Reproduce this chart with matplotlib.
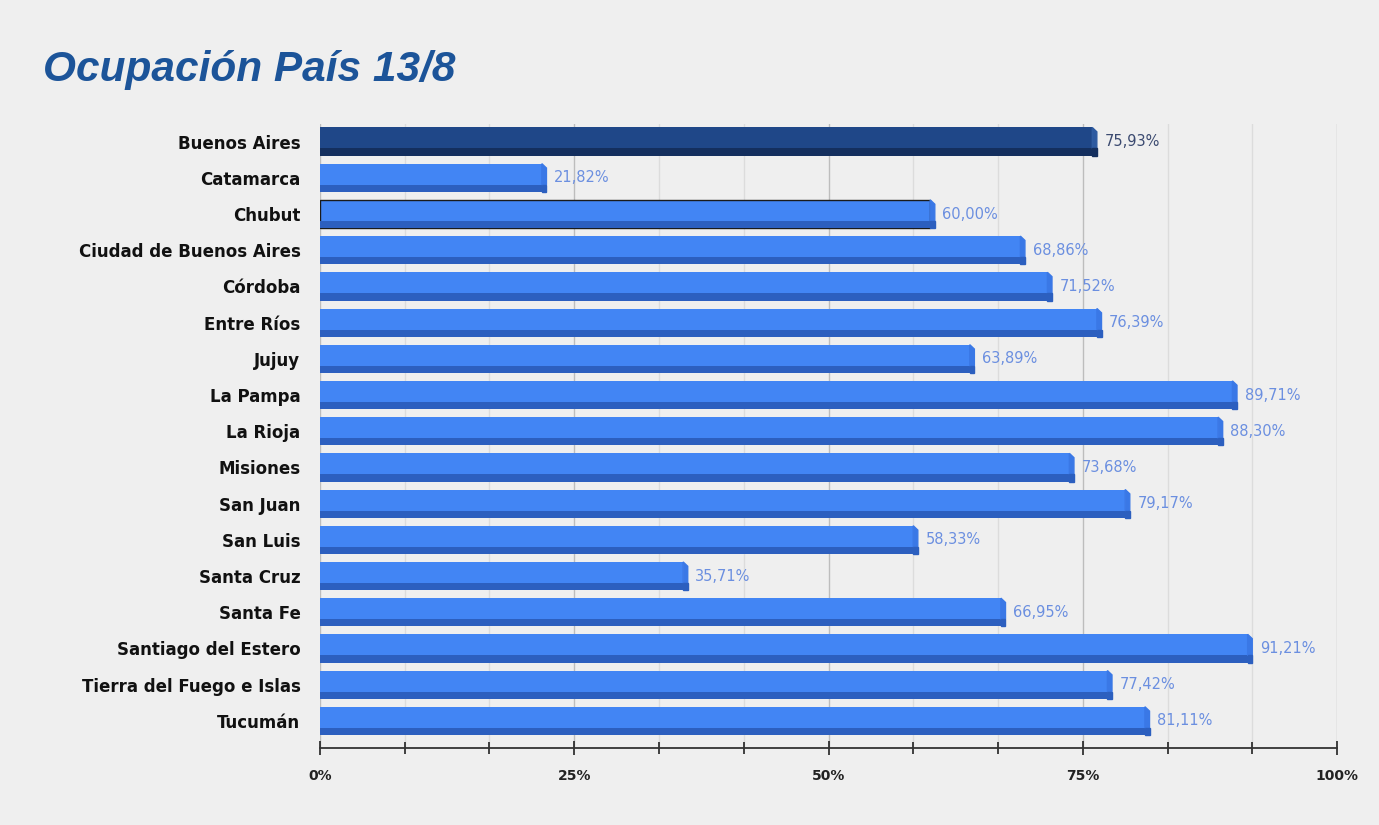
import numpy as np
import matplotlib.pyplot as plt
from matplotlib.patches import Polygon
from matplotlib.ticker import MultipleLocator, FuncFormatter

# Datos
provincias = ["Buenos Aires", "Catamarca", "Chubut", "Ciudad de Buenos Aires",
              "Córdoba", "Entre Ríos", "Jujuy", "La Pampa", "La Rioja", "Misiones",
              "San Juan", "San Luis", "Santa Cruz", "Santa Fe",
              "Santiago del Estero", "Tierra del Fuego e Islas", "Tucumán"]
ocupacion = [75.93, 21.82, 60.00, 68.86, 71.52, 76.39, 63.89, 89.71, 88.30,
             73.68, 79.17, 58.33, 35.71, 66.95, 91.21, 77.42, 81.11]
etiquetas = [f"{v:.2f}%".replace(".", ",") for v in ocupacion]

bg = "#efefef"
fig = plt.figure(figsize=(13.79, 8.25), dpi=100, facecolor=bg)
ax = fig.add_axes([0.232, 0.0933, 0.7376, 0.757], facecolor=bg)

y = np.arange(len(provincias))
h = 0.78
for i, v in enumerate(ocupacion):
    if i == 0:
        cara, sombra, bisel, txt = "#1f4788", "#142f5e", "#2d5aa0", "#3b4a70"
    else:
        cara, sombra, bisel, txt = "#4285f4", "#2c5fbf", "#3a78e6", "#6b8fe0"
    ec = "#1a1a1a" if provincias[i] == "Chubut" else "none"
    ax.barh(i, v, height=h, color=cara, edgecolor=ec, linewidth=1, zorder=3)
    # franja inferior oscura (efecto 3D)
    ax.barh(i + h/2 - 0.1, v, height=0.2, color=sombra, zorder=4)
    # bisel derecho
    ax.add_patch(Polygon([(v, i - h/2), (v + 0.45, i - h/2 + 0.12),
                          (v + 0.45, i + h/2 - 0.2), (v, i + h/2 - 0.2)],
                         closed=True, color=bisel, zorder=4))
    ax.add_patch(Polygon([(v, i + h/2 - 0.2), (v + 0.45, i + h/2 - 0.2),
                          (v + 0.45, i + h/2), (v, i + h/2)],
                         closed=True, color=sombra, zorder=4))
    ax.text(v + 1.2, i, etiquetas[i], va="center", ha="left",
            fontsize=10.5, color=txt, family="DejaVu Sans", zorder=5)

ax.set_xlim(0, 100)
ax.set_ylim(len(provincias) - 0.25, -0.5)
ax.set_yticks(y)
ax.set_yticklabels(provincias, fontsize=12, fontweight="bold", family="DejaVu Sans")
ax.tick_params(axis="y", length=0, pad=14, colors="#111111")

ax.xaxis.set_major_locator(MultipleLocator(25))
ax.xaxis.set_minor_locator(MultipleLocator(25/3))
ax.xaxis.set_major_formatter(FuncFormatter(lambda x, p: f"{x:.0f}%"))
for t in ax.get_xticklabels():
    t.set_fontweight("bold")
    t.set_family("DejaVu Sans")
ax.tick_params(axis="x", which="both", direction="inout", length=10, width=1.2,
               labelsize=10, pad=10, colors="#222222")
ax.tick_params(axis="x", which="minor", length=8)

ax.grid(axis="x", which="major", color="#bdbdbd", linewidth=1, zorder=0)
ax.grid(axis="x", which="minor", color="#dcdcdc", linewidth=1, zorder=0)
for s in ["top", "right", "left"]:
    ax.spines[s].set_visible(False)
ax.spines["bottom"].set_color("#333333")
ax.spines["bottom"].set_linewidth(1.3)

fig.text(0.031, 0.915, "Ocupación País 13/8", fontsize=30.5, fontweight="bold",
         fontstyle="italic", color="#1c5499", family="Liberation Sans", va="center")

fig.savefig("out.png", dpi=100, facecolor=bg)
